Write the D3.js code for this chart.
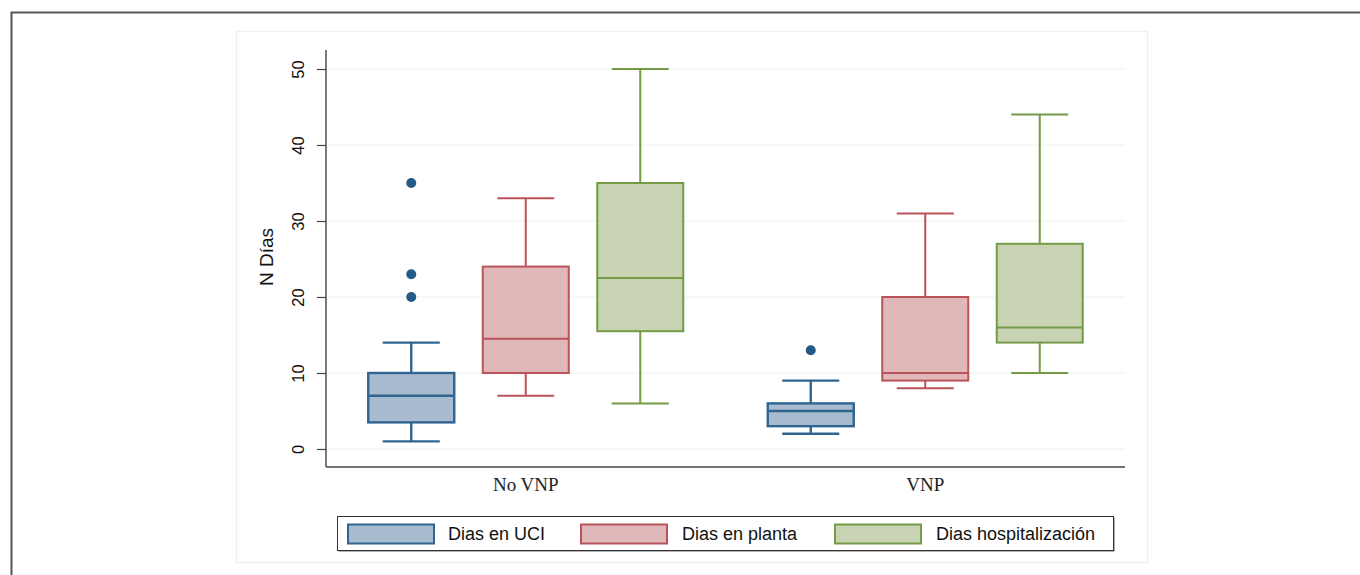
<!DOCTYPE html>
<html>
<head>
<meta charset="utf-8">
<script src="https://cdn.jsdelivr.net/npm/d3@7"></script>
<style>
  html, body { margin: 0; padding: 0; background: #fff; }
  svg { display: block; }
</style>
</head>
<body>
<svg id="chart" width="1360" height="575"></svg>
<script>
// ---- data ----
const groups = ["No VNP", "VNP"];
const seriesNames = ["Dias en UCI", "Dias en planta", "Dias hospitalización"];
// [lowWhisker, q1, median, q3, highWhisker] per group for each series
const uciStats      = [[1, 3.5, 7, 10, 14], [2, 3, 5, 6, 9]];
const plantaStats   = [[7, 10, 14.5, 24, 33], [8, 9, 10, 20, 31]];
const hospStats     = [[6, 15.5, 22.5, 35, 50], [10, 14, 16, 27, 44]];
const uciOutliers    = [[35, 23, 20], [13]];
const plantaOutliers = [[], []];
const hospOutliers   = [[], []];
const yTicks = [0, 10, 20, 30, 40, 50];

const strokeColors = ["#2f6590", "#b9535a", "#759b47"];
const fillColors   = ["#a9bccf", "#e0b8ba", "#c7d3b2"];

const statsBySeries = [uciStats, plantaStats, hospStats];
const outliersBySeries = [uciOutliers, plantaOutliers, hospOutliers];

const svg = d3.select("#chart");

// outer frame
svg.append("rect").attr("x", 11.5).attr("y", 12.5).attr("width", 1360).attr("height", 600)
  .attr("fill", "#fff").attr("stroke", "#555").attr("stroke-width", 2);
// inner panel
svg.append("rect").attr("x", 236.5).attr("y", 31.5).attr("width", 911).attr("height", 531)
  .attr("fill", "#fff").attr("stroke", "#f0f0f0").attr("stroke-width", 1.5);

const plotL = 326, plotR = 1125, plotT = 50, plotB = 467;
const y = d3.scaleLinear().domain([-2.37, 52.5]).range([plotB, plotT]);
const x = d3.scaleBand().domain(groups).range([plotL, plotR]).padding(0);
const sub = d3.scalePoint().domain(seriesNames).range([-114.5, 114.5]);
const boxW = 86, capW = 57;

// gridlines
svg.append("g").selectAll("line").data(yTicks).join("line")
  .attr("x1", plotL + 1).attr("x2", plotR)
  .attr("y1", d => y(d)).attr("y2", d => y(d))
  .attr("stroke", "#edf1f1").attr("stroke-width", 1.2);

// y axis
const yAxis = d3.axisLeft(y).tickValues(yTicks).tickSize(9).tickPadding(0).tickFormat(d3.format("d"));
const gy = svg.append("g").attr("transform", `translate(${plotL},0)`).call(yAxis);
gy.select(".domain").attr("d", `M0,${plotT}V${plotB}`).attr("stroke", "#444").attr("stroke-width", 1.4);
gy.selectAll(".tick line").attr("stroke", "#444").attr("stroke-width", 1.2);
gy.selectAll(".tick text")
  .attr("transform", "translate(-28,0) rotate(-90)")
  .attr("x", 0).attr("y", 0).attr("dy", "0.35em")
  .attr("text-anchor", "middle")
  .style("font-family", "'Liberation Sans', Arial, sans-serif")
  .style("font-size", "16.5px").attr("fill", "#111");

// x axis
const xAxis = d3.axisBottom(x).tickSize(0).tickPadding(0);
const gx = svg.append("g").attr("transform", `translate(0,${plotB})`).call(xAxis);
gx.select(".domain").attr("d", `M${plotL},0H${plotR}`).attr("stroke", "#444").attr("stroke-width", 1.4);
gx.selectAll(".tick text").attr("y", 24).attr("dy", 0)
  .style("font-family", "'Liberation Serif', 'Times New Roman', serif")
  .style("font-size", "19px").attr("fill", "#222");

// y title
svg.append("text").attr("transform", "translate(273,257) rotate(-90)")
  .attr("text-anchor", "middle")
  .style("font-family", "'Liberation Sans', Arial, sans-serif")
  .style("font-size", "19px").attr("fill", "#111").text("N Días");

// boxes
seriesNames.forEach((name, si) => {
  const sw = si === 0 ? 2.4 : 2;
  groups.forEach((g, gi) => {
    const [lo, q1, med, q3, hi] = statsBySeries[si][gi];
    const cx = x(g) + x.bandwidth() / 2 + sub(name);
    const gg = svg.append("g");
    gg.append("line").attr("x1", cx).attr("x2", cx).attr("y1", y(hi)).attr("y2", y(q3))
      .attr("stroke", strokeColors[si]).attr("stroke-width", sw);
    gg.append("line").attr("x1", cx).attr("x2", cx).attr("y1", y(q1)).attr("y2", y(lo))
      .attr("stroke", strokeColors[si]).attr("stroke-width", sw);
    gg.append("line").attr("x1", cx - capW / 2).attr("x2", cx + capW / 2).attr("y1", y(hi)).attr("y2", y(hi))
      .attr("stroke", strokeColors[si]).attr("stroke-width", sw);
    gg.append("line").attr("x1", cx - capW / 2).attr("x2", cx + capW / 2).attr("y1", y(lo)).attr("y2", y(lo))
      .attr("stroke", strokeColors[si]).attr("stroke-width", sw);
    gg.append("rect").attr("x", cx - boxW / 2).attr("y", y(q3)).attr("width", boxW).attr("height", y(q1) - y(q3))
      .attr("fill", fillColors[si]).attr("stroke", strokeColors[si]).attr("stroke-width", sw);
    gg.append("line").attr("x1", cx - boxW / 2).attr("x2", cx + boxW / 2).attr("y1", y(med)).attr("y2", y(med))
      .attr("stroke", strokeColors[si]).attr("stroke-width", sw);
    gg.selectAll("circle").data(outliersBySeries[si][gi]).join("circle")
      .attr("cx", cx).attr("cy", d => y(d)).attr("r", 5)
      .attr("fill", si === 0 ? "#255a87" : strokeColors[si]);
  });
});

// legend
const lg = svg.append("g");
lg.append("rect").attr("x", 338.5).attr("y", 517.5).attr("width", 776).attr("height", 34).attr("fill", "#666");
lg.append("rect").attr("x", 337.5).attr("y", 516.5).attr("width", 776).attr("height", 34)
  .attr("fill", "#fff").attr("stroke", "#333").attr("stroke-width", 1);
const keyX = [348, 581, 835];
const textX = [448, 682, 936];
seriesNames.forEach((name, si) => {
  lg.append("rect").attr("x", keyX[si]).attr("y", 524.5).attr("width", 86).attr("height", 19)
    .attr("fill", fillColors[si]).attr("stroke", strokeColors[si]).attr("stroke-width", 2);
  lg.append("text").attr("x", textX[si]).attr("y", 540)
    .style("font-family", "'Liberation Sans', Arial, sans-serif")
    .style("font-size", "18px").attr("fill", "#111").text(name);
});
</script>
</body>
</html>
